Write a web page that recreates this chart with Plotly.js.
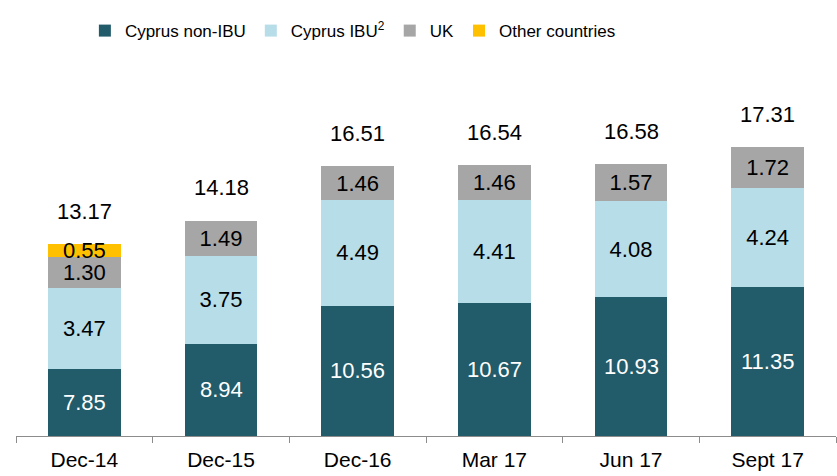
<!DOCTYPE html>
<html><head><meta charset="utf-8">
<script src="https://cdn.plot.ly/plotly-3.0.1.min.js"></script>
<style>html,body{margin:0;padding:0;background:#fff}#chart{width:837px;height:476px}</style>
</head><body><div id="chart"></div>
<script>
const categories = ['Dec-14', 'Dec-15', 'Dec-16', 'Mar 17', 'Jun 17', 'Sept 17'];
const cyprusNonIBU = [7.85, 8.94, 10.56, 10.67, 10.93, 11.35];
const cyprusIBU = [3.47, 3.75, 4.49, 4.41, 4.08, 4.24];
const uk = [1.30, 1.49, 1.46, 1.46, 1.57, 1.72];
const otherCountries = [0.55, null, null, null, null, null];
const totals = [13.17, 14.18, 16.51, 16.54, 16.58, 17.31];
const seriesNames = ['Cyprus non-IBU', 'Cyprus IBU<sup>2</sup>', 'UK', 'Other countries'];

const FONT = 'Arial, "Liberation Sans", sans-serif';
const Y_MIN = 5, Y_MAX = 21.03;
const seriesValues = [cyprusNonIBU, cyprusIBU, uk, otherCountries];
const seriesColors = ['#225B69', '#B7DDE8', '#A6A6A6', '#FFC000'];
const labelColors = ['#FFFFFF', '#000000', '#000000', '#000000'];

const traces = seriesValues.map((vals, i) => {
  const idx = vals.map((v, j) => j).filter(j => vals[j] != null);
  const xs = idx.map(j => categories[j]);
  const ys = idx.map(j => vals[j]);
  return {
    type: 'bar',
    name: seriesNames[i],
    x: xs,
    y: ys,
    text: i === 0 ? undefined : ys.map(v => v.toFixed(2)),
    textposition: i === 0 ? 'none' : 'inside',
    insidetextanchor: 'middle',
    textangle: 0,
    constraintext: 'none',
    textfont: {family: FONT, size: 22, color: labelColors[i]},
    marker: {color: seriesColors[i], line: {width: 0}},
    hoverinfo: 'skip'
  };
});

// labels of the bottom segment, centred in its visible part (axis starts at Y_MIN)
const baseLabels = categories.map((c, i) => ({
  x: c, y: (Y_MIN + cyprusNonIBU[i]) / 2, xref: 'x', yref: 'y',
  text: cyprusNonIBU[i].toFixed(2),
  showarrow: false, yanchor: 'middle',
  font: {family: FONT, size: 22, color: labelColors[0]}
}));

const totalLabels = categories.map((c, i) => ({
  x: c, y: totals[i], xref: 'x', yref: 'y',
  text: totals[i].toFixed(2),
  showarrow: false, yanchor: 'middle', yshift: 33,
  font: {family: FONT, size: 22, color: '#000000'}
}));

const layout = {
  width: 837, height: 476,
  margin: {l: 16, r: 1, t: 60, b: 40},
  paper_bgcolor: '#ffffff', plot_bgcolor: '#ffffff',
  barmode: 'stack',
  bargap: 0.47,
  font: {family: FONT, color: '#000000'},
  showlegend: true,
  legend: {
    orientation: 'h', x: 0.084, xanchor: 'left', y: 1.077, yanchor: 'middle',
    font: {family: FONT, size: 17, color: '#000000'},
    traceorder: 'normal', bgcolor: 'rgba(0,0,0,0)'
  },
  xaxis: {
    type: 'category',
    showline: true, linecolor: '#8C8C8C', linewidth: 1,
    ticks: 'outside', tickson: 'boundaries', ticklen: 6, tickcolor: '#8C8C8C', tickwidth: 1,
    ticklabelstandoff: 5,
    tickfont: {family: FONT, size: 21, color: '#000000'},
    showgrid: false, zeroline: false, fixedrange: true
  },
  yaxis: {
    range: [Y_MIN, Y_MAX],
    visible: false, showgrid: false, zeroline: false, fixedrange: true
  },
  annotations: baseLabels.concat(totalLabels)
};

Plotly.newPlot('chart', traces, layout, {displayModeBar: false, staticPlot: true});
</script>
</body></html>
